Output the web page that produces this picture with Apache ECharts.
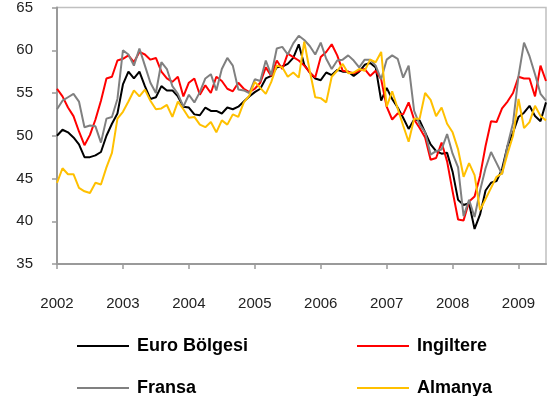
<!DOCTYPE html>
<html>
<head>
<meta charset="utf-8">
<script src="https://cdn.jsdelivr.net/npm/echarts@6/dist/echarts.min.js"></script>
<style>
  html, body { margin: 0; padding: 0; background: #ffffff; }
  #chart { width: 549px; height: 396px; }
</style>
</head>
<body>
<div id="chart"></div>
<script>
// Monthly PMI readings, January 2002 to June 2009
const years = ['2002', '2003', '2004', '2005', '2006', '2007', '2008', '2009'];
const monthNumbers = ['01', '02', '03', '04', '05', '06', '07', '08', '09', '10', '11', '12'];
const lastYearMonths = 6;

const euroArea = [
  50.0, 50.7, 50.4, 49.8, 49.0, 47.5, 47.5, 47.7, 48.1, 50.0, 51.4, 52.6,
  56.0, 57.5, 56.7, 57.5, 55.8, 54.3, 54.5, 55.8, 55.3, 55.3, 54.6, 53.4,
  53.3, 52.5, 52.4, 53.3, 52.9, 52.9, 52.6, 53.3, 53.1, 53.4, 54.0, 54.6,
  55.1, 55.5, 56.7, 57.0, 58.0, 58.1, 58.4, 59.1, 60.7, 58.3, 57.4, 56.7,
  56.5, 57.4, 57.1, 57.7, 57.5, 57.5, 57.0, 57.5, 58.3, 58.5, 58.0, 54.1,
  55.6, 54.3, 53.3, 52.1, 50.8, 51.9, 51.8, 50.4, 49.0, 48.2, 47.9, 48.0,
  45.8, 42.5, 41.9, 42.1, 39.1, 40.8, 43.6, 44.5, 44.7, 46.1, 48.8, 50.4,
  52.2, 52.7, 53.5, 52.3, 51.7, 53.9
];

const unitedKingdom = [
  55.5, 54.6, 53.3, 52.3, 50.5, 48.9, 50.1, 51.9, 54.1, 56.7, 56.9, 58.8,
  59.0, 59.4, 58.6, 59.8, 59.5, 58.9, 59.1, 57.5, 56.7, 56.3, 56.9, 54.6,
  56.2, 56.7, 54.8, 55.9, 55.0, 56.9, 56.4, 55.5, 55.2, 56.2, 55.5, 55.1,
  55.5, 56.2, 58.0, 57.0, 58.8, 57.8, 59.6, 59.2, 58.8, 58.2, 57.4, 56.8,
  59.2, 59.8, 60.7, 59.4, 57.6, 57.5, 57.3, 57.6, 57.8, 57.0, 57.6, 56.6,
  53.4, 51.9, 52.6, 52.5, 53.9, 51.9, 50.9, 49.8, 47.2, 47.4, 49.2, 47.0,
  43.5, 40.2, 40.1, 42.3, 42.9, 45.3, 48.8, 51.7, 51.6, 53.2, 54.0, 55.0,
  56.9, 56.7, 56.7, 54.6, 58.2, 56.4
];

const france = [
  53.1, 54.1, 54.5, 54.9, 54.0, 51.0, 51.2, 51.1, 49.2, 52.0, 52.2, 54.3,
  60.0, 59.5, 58.2, 60.2, 58.2, 56.2, 55.0, 58.6, 57.8, 55.8, 54.9, 53.4,
  54.8, 53.9, 55.1, 56.7, 57.2, 55.3, 57.8, 59.1, 58.2, 55.4, 55.3, 55.0,
  56.6, 56.4, 58.8, 57.1, 60.2, 60.4, 59.5, 60.8, 61.7, 61.2, 60.5, 59.5,
  60.9, 59.0, 57.8, 58.8, 58.9, 59.4, 58.8, 58.0, 58.9, 58.9, 58.2, 56.6,
  58.9, 59.4, 59.0, 56.8, 58.2, 52.9, 51.3, 50.4, 47.8, 48.2, 48.4, 50.2,
  47.9, 46.3, 40.6, 42.5, 40.5, 43.6, 46.2, 48.1, 46.8, 45.5, 48.9, 51.5,
  57.0, 60.9, 59.3, 57.2, 54.9, 54.1
];

const germany = [
  44.5, 46.2, 45.5, 45.5, 43.9, 43.5, 43.3, 44.5, 44.3, 46.3, 48.0, 52.0,
  52.8, 54.0, 55.3, 54.6, 55.4, 54.1, 53.1, 53.2, 53.6, 52.2, 54.0, 53.1,
  52.1, 52.2, 51.3, 51.0, 51.6, 50.4, 51.8, 51.3, 52.5, 52.2, 53.9, 54.7,
  56.3, 55.6, 54.9, 56.3, 58.2, 58.0, 56.9, 57.4, 56.8, 61.0, 57.6, 54.5,
  54.4, 53.9, 56.9, 57.6, 58.4, 57.3, 57.4, 57.8, 57.6, 58.9, 58.6, 59.8,
  53.4, 55.2, 53.2, 51.2, 49.3, 52.0, 52.0, 55.0, 54.2, 52.3, 53.3, 51.4,
  50.4, 48.4, 45.2, 46.8, 45.4, 41.3, 42.6, 43.9, 45.2, 45.6, 47.9, 50.0,
  54.3, 50.9, 51.6, 53.5, 52.3, 51.8
];

const seriesNames = ['Euro Bölgesi', 'Ingiltere', 'Fransa', 'Almanya'];
const seriesColors = ['#000000', '#ff0000', '#808080', '#ffc000'];
const seriesValues = [euroArea, unitedKingdom, france, germany];

// One category per month; the axis shows a tick and a year label every January
const months = [];
years.forEach((y, yi) => {
  const n = yi === years.length - 1 ? lastYearMonths : 12;
  for (let m = 0; m < n; m++) months.push(y + '-' + monthNumbers[m]);
});
const isJanuary = (index) => index % 12 === 0;

const axisFont = 'Liberation Sans, Arial, sans-serif';

// Legend laid out as a 2 x 2 block under the plot
const legendSlots = [
  { left: 77, top: 335 },
  { left: 357, top: 335 },
  { left: 77, top: 377 },
  { left: 357, top: 377 }
];

const chart = echarts.init(document.getElementById('chart'), null, { renderer: 'canvas' });

chart.setOption({
  animation: false,
  backgroundColor: '#ffffff',
  grid: {
    left: 57, right: 3, top: 7, bottom: 132,
    show: true,
    borderColor: '#c0c0c0',
    borderWidth: 1.5,
    containLabel: false
  },
  legend: seriesNames.map((name, i) => ({
    data: [name],
    left: legendSlots[i].left,
    top: legendSlots[i].top,
    padding: 0,
    icon: 'rect',
    itemWidth: 52,
    itemHeight: 2,
    selectedMode: false,
    textStyle: {
      fontFamily: axisFont,
      fontSize: 18,
      fontWeight: 'bold',
      color: '#000000',
      lineHeight: 22,
      padding: [0, 0, 0, 3]
    }
  })),
  xAxis: {
    type: 'category',
    data: months,
    boundaryGap: false,
    axisLine: { show: true, lineStyle: { color: '#9a9a9a', width: 2 } },
    axisTick: { show: true, interval: isJanuary, length: 5, lineStyle: { color: '#9a9a9a', width: 1.5 } },
    axisLabel: {
      interval: isJanuary,
      formatter: (v) => v.slice(0, 4),
      margin: 32,
      fontFamily: axisFont,
      fontSize: 15,
      color: '#222222'
    },
    splitLine: { show: false }
  },
  yAxis: {
    type: 'value',
    min: 35,
    max: 65,
    interval: 5,
    axisLine: { show: true, lineStyle: { color: '#9a9a9a', width: 2 } },
    axisTick: { show: true, length: 5, lineStyle: { color: '#9a9a9a', width: 1.5 } },
    axisLabel: {
      margin: 24,
      fontFamily: axisFont,
      fontSize: 15,
      color: '#222222'
    },
    splitLine: { show: false }
  },
  series: seriesNames.map((name, i) => ({
    name: name,
    type: 'line',
    data: seriesValues[i],
    showSymbol: false,
    symbol: 'none',
    lineStyle: { color: seriesColors[i], width: 2 },
    itemStyle: { color: seriesColors[i] },
    emphasis: { disabled: true }
  }))
});
</script>
</body>
</html>
